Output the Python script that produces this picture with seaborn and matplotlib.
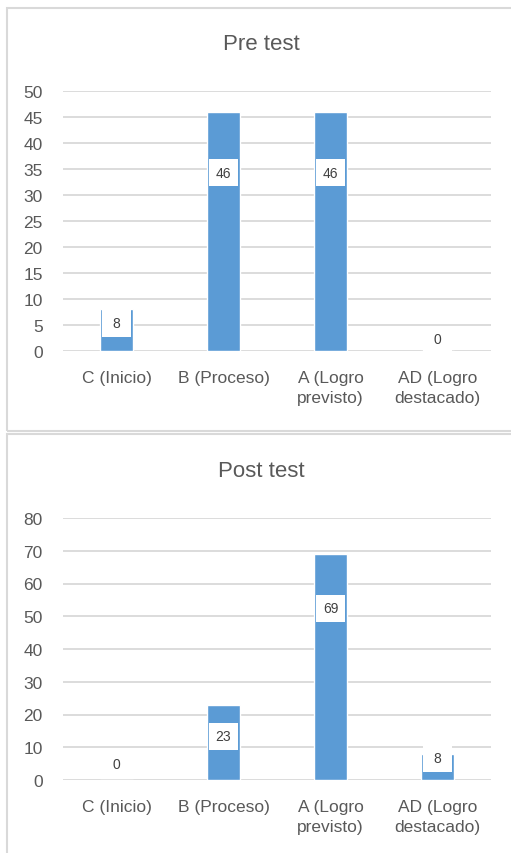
import numpy as np
import pandas as pd
import matplotlib
matplotlib.use("Agg")
import matplotlib.pyplot as plt
from matplotlib.patches import Rectangle
import seaborn as sns

# datos
categorias = ["C (Inicio)", "B (Proceso)", "A (Logro\nprevisto)", "AD (Logro\ndestacado)"]
pre_test = [8, 46, 46, 0]
post_test = [0, 23, 69, 8]

# posicion vertical de las etiquetas (como en el grafico de Excel)
pre_label_y = [5.3, 34.3, 34.3, 2.3]
post_label_y = [4.9, 13.4, 52.4, 6.7]

BAR = "#5b9bd5"
GRID = "#d9d9d9"
TXT = "#595959"

sns.set_theme(style="white")
plt.rcParams["font.family"] = ["Liberation Sans", "DejaVu Sans"]

W, H = 511, 854
fig = plt.figure(figsize=(W / 100, H / 100), dpi=100)


def px_rect(x0, y0, x1, y1):
    # pixeles -> fraccion de figura
    return [x0 / W, 1 - y1 / H, (x1 - x0) / W, (y1 - y0) / H]


def panel(box, ax_box, valores, label_y, titulo, ymax, paso, title_y):
    # marco del panel
    fig.patches.append(Rectangle((box[0] / W, 1 - box[3] / H), (box[2] - box[0]) / W,
                                 (box[3] - box[1]) / H, transform=fig.transFigure,
                                 fill=False, edgecolor=GRID, linewidth=1.5))
    ax = fig.add_axes(px_rect(*ax_box))
    df = pd.DataFrame({"cat": categorias, "n": valores})
    sns.barplot(data=df, x="cat", y="n", color=BAR, saturation=1, width=0.31, ax=ax, zorder=2)
    ax.set_ylim(0, ymax)
    ax.set_yticks(np.arange(0, ymax + 1, paso))
    ax.set_xlim(-0.5, len(categorias) - 0.5)
    ax.grid(axis="y", color=GRID, linewidth=1.3, zorder=0)
    ax.set_axisbelow(True)
    for s in ax.spines.values():
        s.set_visible(False)
    ax.tick_params(axis="both", length=0, labelsize=12.5, labelcolor=TXT)
    ax.tick_params(axis="y", pad=14.5)
    ax.tick_params(axis="x", pad=14)
    for t in ax.get_xticklabels():
        t.set_linespacing(1.38)
    ax.set_xlabel("")
    ax.set_ylabel("")
    # caja blanca de la etiqueta: ~30 px de ancho, ~27 px de alto
    alto = 27 / (ax_box[3] - ax_box[1]) * ymax
    ancho = 0.275
    for i, (v, ly) in enumerate(zip(valores, label_y)):
        ax.add_patch(Rectangle((i - ancho / 2, ly - alto / 2), ancho, alto,
                               facecolor="white", edgecolor="none", zorder=4))
        ax.text(i, ly, str(v), ha="center", va="center", fontsize=10, color="#404040", zorder=5)
    fig.text(261 / W, 1 - title_y / H, titulo, ha="center", va="center",
             fontsize=16, color=TXT)
    return ax


panel((7, 9, 530, 432), (63, 92, 491, 352), pre_test, pre_label_y, "Pre test", 50, 5, 45)
panel((7, 435, 530, 880), (63, 519, 491, 781), post_test, post_label_y, "Post test", 80, 10, 472)

fig.savefig("out.png", dpi=100, facecolor="white")
